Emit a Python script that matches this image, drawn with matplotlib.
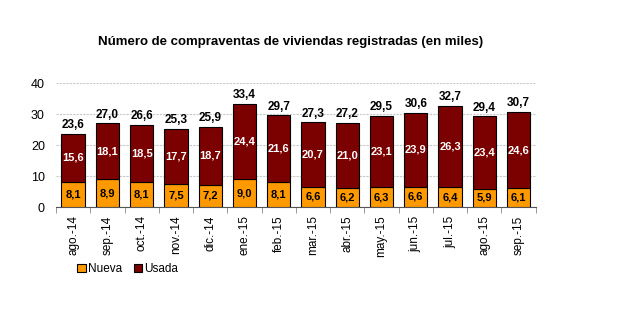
import matplotlib.pyplot as plt
import numpy as np

plt.rcParams['font.family'] = ['Liberation Sans', 'DejaVu Sans']

meses = ['ago.-14', 'sep.-14', 'oct.-14', 'nov.-14', 'dic.-14', 'ene.-15', 'feb.-15',
         'mar.-15', 'abr.-15', 'may.-15', 'jun.-15', 'jul.-15', 'ago.-15', 'sep.-15']
nueva = [8.1, 8.9, 8.1, 7.5, 7.2, 9.0, 8.1, 6.6, 6.2, 6.3, 6.6, 6.4, 5.9, 6.1]
usada = [15.6, 18.1, 18.5, 17.7, 18.7, 24.4, 21.6, 20.7, 21.0, 23.1, 23.9, 26.3, 23.4, 24.6]
total = [23.6, 27.0, 26.6, 25.3, 25.9, 33.4, 29.7, 27.3, 27.2, 29.5, 30.6, 32.7, 29.4, 30.7]

def fmt(v):
    return f'{v:.1f}'.replace('.', ',')

fig = plt.figure(figsize=(6.31, 3.31), dpi=100)
ax = fig.add_axes([0.0887, 0.3746, 0.7603, 0.3744])

x = np.arange(len(meses))
w = 0.68
b1 = ax.bar(x, nueva, w, color='#FF9900', edgecolor='black', linewidth=0.8, label='Nueva', zorder=3)
b2 = ax.bar(x, usada, w, bottom=nueva, color='#7B0000', edgecolor='black', linewidth=0.8, label='Usada', zorder=3)

for i in range(len(meses)):
    ax.text(x[i], nueva[i] / 2, fmt(nueva[i]), ha='center', va='center',
            fontsize=8, fontweight='bold', color='black', zorder=4)
    ax.text(x[i], nueva[i] + usada[i] / 2, fmt(usada[i]), ha='center', va='center',
            fontsize=8, fontweight='bold', color='white', zorder=4)
    ax.text(x[i], nueva[i] + usada[i] + 0.8, fmt(total[i]), ha='center', va='bottom',
            fontsize=8.5, fontweight='bold', color='black', zorder=4)

ax.set_xlim(-0.5, len(meses) - 0.5)
ax.set_ylim(0, 40)
ax.set_yticks([0, 10, 20, 30, 40])
ax.yaxis.grid(True, color='#c8c8c8', linestyle=(0, (2, 1)), linewidth=0.8, zorder=0)
ax.tick_params(axis='y', length=0, labelsize=9, pad=8)

ax.set_xticks(x)
ax.set_xticklabels(meses, rotation=90, fontsize=8.5)
ax.set_xticks(np.arange(-0.5, len(meses)), minor=True)
ax.tick_params(axis='x', which='major', length=0, pad=6)
ax.tick_params(axis='x', which='minor', length=4, color='#888888')

for s in ['top', 'right', 'left']:
    ax.spines[s].set_visible(False)
ax.spines['bottom'].set_color('#555555')

fig.suptitle('Número de compraventas de viviendas registradas (en miles)',
             x=0.46, y=0.89, fontsize=9.5, fontweight='bold')

fig.legend(handles=[b1, b2], loc='lower left', bbox_to_anchor=(0.115, 0.155), ncol=2,
           frameon=False, fontsize=8.5, handlelength=0.7, handleheight=0.7,
           handletextpad=0.2, columnspacing=1.0, borderaxespad=0)

fig.savefig('out.png', dpi=100)
